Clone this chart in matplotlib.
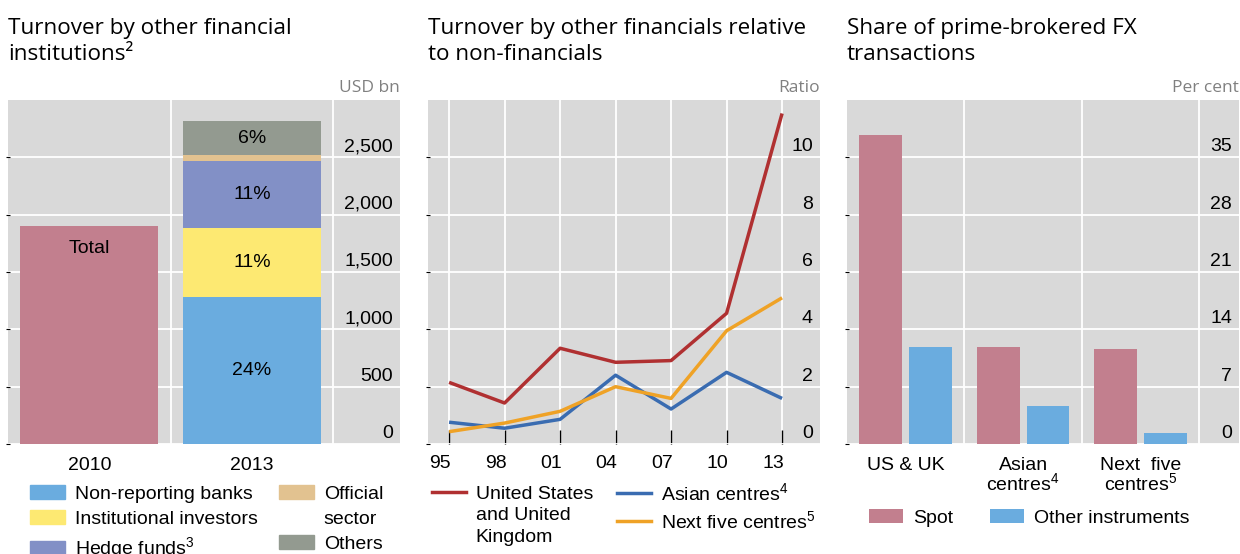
import matplotlib
matplotlib.use("Agg")
import matplotlib.pyplot as plt
from matplotlib import transforms
from matplotlib.patches import Patch
from matplotlib.lines import Line2D

plt.rcParams['font.family'] = ['Liberation Sans', 'DejaVu Sans']
plt.rcParams['mathtext.fontset'] = 'custom'
plt.rcParams['mathtext.rm'] = 'Liberation Sans'
plt.rcParams['mathtext.it'] = 'Liberation Sans:italic'
plt.rcParams['mathtext.bf'] = 'Liberation Sans:bold'

BG = '#d9d9d9'
TITLE_FONT = 'Open Sans'
FS = 14
W, H = 1240, 554

# --- panel 1: turnover by other financial institutions (USD bn)
years_p1 = ["2010", "2013"]
total_2010 = 1900
sector_names = ["Non-reporting banks", "Institutional investors", "Hedge funds$^{3}$",
                "Official\nsector", "Others"]
sector_2013 = [1280, 600, 585, 52, 296]
sector_share = ["24%", "11%", "11%", "", "6%"]
sector_colors = ['#6aacdf', '#fde972', '#8290c6', '#e2c290', '#939a90']
total_color = '#c27f8e'

# --- panel 2: ratio other financials / non-financials
ratio_years = [1995, 1998, 2001, 2004, 2007, 2010, 2013]
ratio_labels = ["95", "98", "01", "04", "07", "10", "13"]
us_uk = [2.15, 1.43, 3.34, 2.85, 2.91, 4.56, 11.53]
asian = [0.76, 0.55, 0.86, 2.40, 1.22, 2.50, 1.59]
next_five = [0.43, 0.73, 1.14, 2.00, 1.59, 3.95, 5.10]

# --- panel 3: share of prime-brokered FX (per cent)
regions = ["US & UK", "Asian\ncentres$^{4}$", "Next  five\ncentres$^{5}$"]
spot = [37.7, 11.9, 11.6]
other_instr = [11.8, 4.7, 1.3]


def px_axes(left, right):
    return fig.add_axes([left / W, 1 - 444 / H, (right - left) / W, 344 / H])


def style_axes(ax, yticks, ymax, fmt, unit, title):
    ax.set_facecolor(BG)
    for s in ax.spines.values():
        s.set_visible(False)
    ax.set_ylim(0, ymax)
    ax.set_yticks(yticks)
    ax.tick_params(axis='y', left=True, labelleft=False, length=3,
                   direction='inout', color='black', width=0.8)
    ax.grid(axis='y', color='white', lw=1.3)
    ax.set_axisbelow(True)
    trans = transforms.offset_copy(ax.get_yaxis_transform(), fig=fig, y=6, units='dots')
    for v in yticks:
        ax.text(0.982, v, fmt(v), transform=trans, ha='right', va='baseline', fontsize=FS)
    ax.annotate(unit, xy=(1, 1), xycoords='axes fraction', xytext=(0, 8),
                textcoords='offset pixels', ha='right', va='baseline',
                color='#808080', fontsize=12.5, family=TITLE_FONT)
    bb = ax.get_position()
    fig.text(bb.x0, 1 - 18 / H, title, ha='left', va='top', fontsize=16.2,
             family=TITLE_FONT, linespacing=1.3)


fig = plt.figure(figsize=(12.4, 5.54), dpi=100)

# ---------------- panel 1
ax1 = px_axes(8, 400)
style_axes(ax1, [0, 500, 1000, 1500, 2000, 2500], 3000, lambda v: f"{v:,}",
           "USD bn", "Turnover by other financial\ninstitutions²")
ax1.set_xlim(-0.5, 1.91)
ax1.bar(0, total_2010, width=0.85, color=total_color)
ax1.annotate("Total", xy=(0, total_2010), xytext=(0, -22), textcoords='offset pixels',
             ha='center', va='center', fontsize=FS)
bottom = 0
for val, col, lab in zip(sector_2013, sector_colors, sector_share):
    ax1.bar(1, val, bottom=bottom, width=0.85, color=col)
    if lab:
        ax1.text(1, bottom + val / 2, lab, ha='center', va='center', fontsize=FS)
    bottom += val
ax1.set_xticks([0, 1], years_p1)
ax1.set_xticks([0.5, 1.5], minor=True)
ax1.tick_params(axis='x', which='both', length=0, labelsize=FS, pad=9)
ax1.grid(axis='x', which='minor', color='white', lw=1.3)

h1, l1 = [], []
for name, col in zip(sector_names, sector_colors):
    parts = name.split("\n")
    h1.append(Patch(color=col))
    l1.append(parts[0])
    for extra in parts[1:]:
        h1.append(Patch(facecolor='none', edgecolor='none'))
        l1.append(extra)
fig.legend(h1, l1, loc='upper left', bbox_to_anchor=(30 / W, 1 - 485 / H), ncol=2,
           frameon=False, fontsize=FS, handlelength=1.8, handleheight=0.72,
           handletextpad=0.5, columnspacing=1.1, labelspacing=0.38,
           borderpad=0, borderaxespad=0)

# ---------------- panel 2
ax2 = px_axes(428, 820)
style_axes(ax2, [0, 2, 4, 6, 8, 10], 12, lambda v: f"{v}",
           "Ratio", "Turnover by other financials relative\nto non-financials")
ax2.plot(ratio_years, us_uk, color='#b03031', lw=2.5, solid_capstyle='butt')
ax2.plot(ratio_years, asian, color='#3a6cb1', lw=2.5, solid_capstyle='butt')
ax2.plot(ratio_years, next_five, color='#efa226', lw=2.5, solid_capstyle='butt')
ax2.set_xlim(1993.86, 2015.05)
ax2.set_xticks(ratio_years, ratio_labels)
ax2.tick_params(axis='x', direction='in', length=10, width=1, color='black',
                labelsize=FS, pad=8)
ax2.grid(axis='x', color='white', lw=1.3)
for lab in ax2.get_xticklabels():
    lab.set_transform(lab.get_transform() +
                      transforms.ScaledTranslation(-9 / 100, 0, fig.dpi_scale_trans))

blank = Line2D([], [], color='none')
fig.legend([Line2D([], [], color='#b03031', lw=2.5), blank, blank],
           ["United States", "and United", "Kingdom"],
           loc='upper left', bbox_to_anchor=(432 / W, 1 - 485 / H), frameon=False,
           fontsize=FS, handlelength=1.75, handletextpad=0.5, labelspacing=0.2,
           borderpad=0, borderaxespad=0)
fig.legend([Line2D([], [], color='#3a6cb1', lw=2.5), Line2D([], [], color='#efa226', lw=2.5)],
           ["Asian centres$^{4}$", "Next five centres$^{5}$"],
           loc='upper left', bbox_to_anchor=(617 / W, 1 - 482 / H), frameon=False,
           fontsize=FS, handlelength=1.75, handletextpad=0.5, labelspacing=0.3,
           borderpad=0, borderaxespad=0)

# ---------------- panel 3
ax3 = px_axes(847, 1239)
style_axes(ax3, [0, 7, 14, 21, 28, 35], 42, lambda v: f"{v}",
           "Per cent", "Share of prime-brokered FX\ntransactions")
xpos = list(range(len(regions)))
ax3.bar([x - 0.212 for x in xpos], spot, width=0.364, color=total_color, label="Spot")
ax3.bar([x + 0.212 for x in xpos], other_instr, width=0.364, color='#6aacdf',
        label="Other instruments")
ax3.set_xlim(-0.5, 2.84)
ax3.set_xticks(xpos, regions)
ax3.set_xticks([0.5, 1.5, 2.5], minor=True)
ax3.tick_params(axis='x', which='both', length=0, labelsize=FS, pad=9)
ax3.grid(axis='x', which='minor', color='white', lw=1.3)
for lab in ax3.get_xticklabels():
    lab.set_linespacing(0.95)
fig.legend(*ax3.get_legend_handles_labels(), loc='upper left',
           bbox_to_anchor=(869 / W, 1 - 509 / H), ncol=2, frameon=False, fontsize=FS,
           handlelength=1.75, handleheight=0.72, handletextpad=0.5, columnspacing=1.9,
           borderpad=0, borderaxespad=0)

fig.savefig("out.png", dpi=100)
